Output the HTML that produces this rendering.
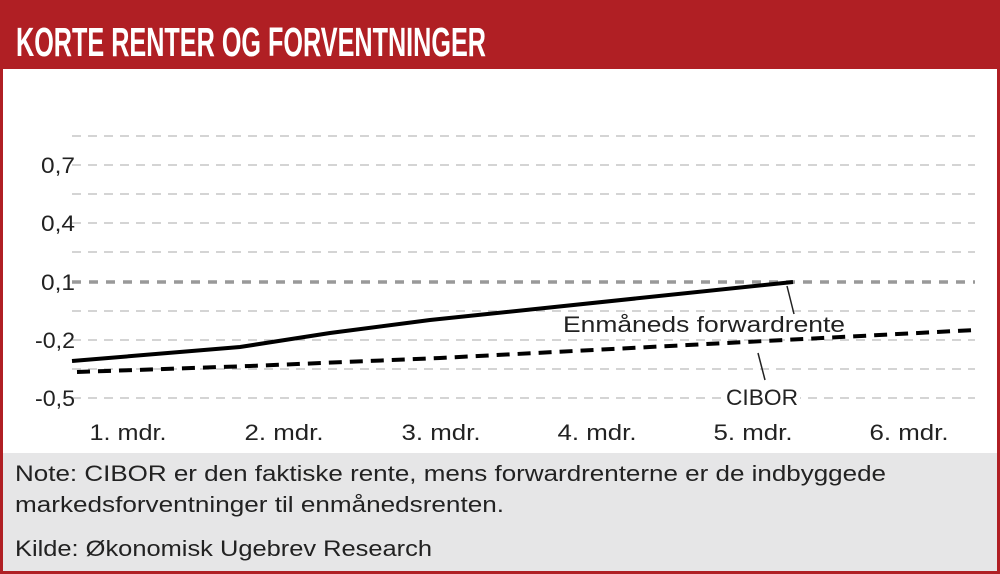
<!DOCTYPE html>
<html><head><meta charset="utf-8"><style>
html,body{margin:0;padding:0;background:#fff;}
#w{position:relative;width:1000px;height:574px;overflow:hidden;font-family:"Liberation Sans","DejaVu Sans",sans-serif;}
</style></head><body><div id="w">
<svg width="1000" height="574" xmlns="http://www.w3.org/2000/svg">
<rect x="0" y="0" width="1000" height="574" fill="#fff"/>
<rect x="1.5" y="1.5" width="997" height="571" fill="none" stroke="#b01f24" stroke-width="3"/>
<rect x="0" y="0" width="1000" height="69" fill="#b01f24"/>
<text x="16" y="56" font-family="'Liberation Sans Narrow','Liberation Sans',sans-serif" font-weight="bold" font-size="41" fill="#fff" textLength="470" lengthAdjust="spacingAndGlyphs">KORTE RENTER OG FORVENTNINGER</text>
<rect x="3" y="453" width="994" height="118" fill="#e6e6e7"/>
<g stroke="#bbb" stroke-width="1.3" stroke-dasharray="9,7">
<line x1="72" y1="136" x2="975" y2="136"/>
<line x1="72" y1="165" x2="975" y2="165"/>
<line x1="72" y1="194" x2="975" y2="194"/>
<line x1="72" y1="223" x2="975" y2="223"/>
<line x1="72" y1="252" x2="975" y2="252"/>
<line x1="72" y1="311" x2="975" y2="311"/>
<line x1="72" y1="340" x2="975" y2="340"/>
<line x1="72" y1="369" x2="975" y2="369"/>
<line x1="72" y1="398" x2="975" y2="398"/>
</g>
<line x1="72" y1="282" x2="975" y2="282" stroke="#999" stroke-width="3.5" stroke-dasharray="9,8"/>
<g font-size="22" fill="#222" text-anchor="end">
<text x="75" y="173" textLength="34" lengthAdjust="spacingAndGlyphs">0,7</text>
<text x="75" y="231" textLength="34" lengthAdjust="spacingAndGlyphs">0,4</text>
<text x="75" y="290" textLength="34" lengthAdjust="spacingAndGlyphs">0,1</text>
<text x="75" y="348" textLength="40" lengthAdjust="spacingAndGlyphs">-0,2</text>
<text x="75" y="406" textLength="40" lengthAdjust="spacingAndGlyphs">-0,5</text>
</g>
<g font-size="22" fill="#222" text-anchor="middle">
<text x="128" y="440" textLength="77" lengthAdjust="spacingAndGlyphs">1. mdr.</text>
<text x="284" y="440" textLength="79" lengthAdjust="spacingAndGlyphs">2. mdr.</text>
<text x="441" y="440" textLength="79" lengthAdjust="spacingAndGlyphs">3. mdr.</text>
<text x="597" y="440" textLength="79" lengthAdjust="spacingAndGlyphs">4. mdr.</text>
<text x="753" y="440" textLength="79" lengthAdjust="spacingAndGlyphs">5. mdr.</text>
<text x="909" y="440" textLength="79" lengthAdjust="spacingAndGlyphs">6. mdr.</text>
</g>
<polyline points="72,361 240,347 330,333 430,320 793,282" fill="none" stroke="#000" stroke-width="4"/>
<polyline points="77,372 250,366 440,358 975,330" fill="none" stroke="#000" stroke-width="4" stroke-dasharray="13,8"/>
<line x1="787" y1="286" x2="794" y2="314" stroke="#222" stroke-width="1.5"/>
<line x1="758" y1="353" x2="765" y2="380" stroke="#222" stroke-width="1.5"/>
<text x="563" y="332" font-size="22" fill="#222" textLength="282" lengthAdjust="spacingAndGlyphs">Enmåneds forwardrente</text>
<rect x="724" y="387" width="76" height="22" fill="#fff"/>
<text x="762" y="405" font-size="22" fill="#222" text-anchor="middle" textLength="72" lengthAdjust="spacingAndGlyphs">CIBOR</text>
<g font-size="22" fill="#222">
<text x="15" y="481" textLength="871" lengthAdjust="spacingAndGlyphs">Note: CIBOR er den faktiske rente, mens forwardrenterne er de indbyggede</text>
<text x="15" y="512" textLength="489" lengthAdjust="spacingAndGlyphs">markedsforventninger til enmånedsrenten.</text>
<text x="15" y="556" textLength="417" lengthAdjust="spacingAndGlyphs">Kilde: Økonomisk Ugebrev Research</text>
</g>
</svg>
</div></body></html>
